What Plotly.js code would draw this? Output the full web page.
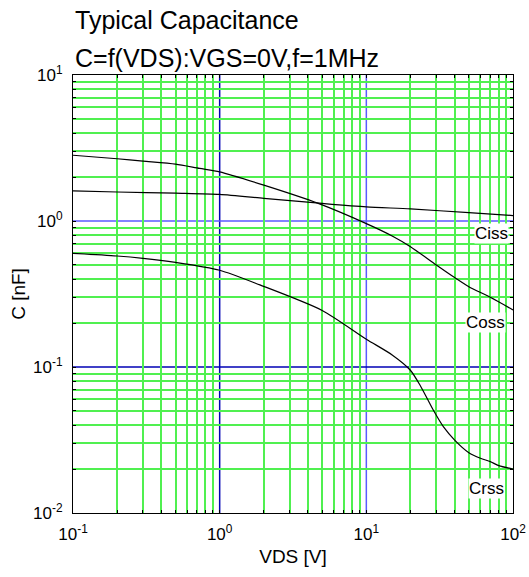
<!DOCTYPE html>
<html>
<head>
<meta charset="utf-8">
<script src="https://cdn.plot.ly/plotly-3.0.1.min.js"></script>
<style>html,body{margin:0;padding:0;background:#fff;}#chart{width:529px;height:577px;}</style>
</head>
<body>
<div id="chart"></div>
<script>
// VDS [V] sample points and capacitances [nF]
const vdsCiss = [0.1, 0.2, 0.5, 1, 2, 5, 10, 20, 50, 100];
const ciss    = [1.61, 1.58, 1.55, 1.52, 1.43, 1.32, 1.25, 1.21, 1.14, 1.09];

const vdsCoss = [0.1, 0.2, 0.3, 0.5, 0.73, 1, 2, 4.7, 10, 15, 20, 30, 40, 50, 70, 100];
const coss    = [2.82, 2.67, 2.57, 2.45, 2.29, 2.17, 1.76, 1.32, 0.96, 0.79, 0.667, 0.50, 0.41, 0.355, 0.30, 0.246];

const vdsCrss = [0.1, 0.2, 0.3, 0.5, 1, 1.88, 5, 10, 15, 19.9, 23.2, 28.6, 33.5, 40, 50, 60, 70, 80, 100];
const crss    = [0.60, 0.576, 0.555, 0.52, 0.46, 0.365, 0.244, 0.155, 0.121, 0.0954, 0.0753, 0.0507, 0.039, 0.0316, 0.0259, 0.0237, 0.0225, 0.0211, 0.020];

const seriesNames = ['Ciss', 'Coss', 'Crss'];
const titleLines = ['Typical Capacitance', 'C=f(VDS):VGS=0V,f=1MHz'];
const xTitle = 'VDS [V]';
const yTitle = 'C [nF]';

// decade ticks and their labels
const xDecades = [0.1, 1, 10, 100];
const xDecadeLabels = ['10<sup>-1</sup>', '10<sup>0</sup>', '10<sup>1</sup>', '10<sup>2</sup>'];
const yDecades = [0.01, 0.1, 1, 10];
const yDecadeLabels = ['10<sup>-2</sup>', '10<sup>-1</sup>', '10<sup>0</sup>', '10<sup>1</sup>'];
const minorDigits = [2, 3, 4, 5, 6, 7, 8, 9];

// minor grid positions: 2..9 x each decade
function minorVals(decades) {
  const out = [];
  for (let i = 0; i < decades.length - 1; i++) {
    minorDigits.forEach(d => out.push(decades[i] * d));
  }
  return out;
}

const FONT = 'Liberation Sans, Arial, sans-serif';
const GREEN = '#50f050';
const NAVY = '#0000b4';
const BLUE = '#5a5aff';

function line(x, y, name) {
  return {x: x, y: y, name: name, type: 'scatter', mode: 'lines',
          line: {color: '#000', width: 1.2, shape: 'spline', smoothing: 0.7},
          hoverinfo: 'x+y+name'};
}

const traces = [
  line(vdsCiss, ciss, seriesNames[0]),
  line(vdsCoss, coss, seriesNames[1]),
  line(vdsCrss, crss, seriesNames[2])
];

function axis(rng, decades, labels, titleText, standoff) {
  return {
    type: 'log', range: rng,
    tickmode: 'array', tickvals: decades, ticktext: labels, tickangle: 0,
    showgrid: false,
    zeroline: false,
    showline: true, linecolor: '#000', linewidth: 1, mirror: 'allticks',
    ticks: 'inside', ticklen: 3, tickcolor: '#000',
    tickfont: {family: FONT, size: 17, color: '#000'},
    minor: {tickmode: 'array', tickvals: minorVals(decades), showgrid: true,
            gridcolor: GREEN, gridwidth: 2,
            ticks: 'inside', ticklen: 3, tickcolor: '#000'},
    title: {text: titleText, font: {family: FONT, size: 19, color: '#000'}, standoff: standoff},
    fixedrange: true
  };
}

// decade reference lines: [axis, data value, colour]
const decadeLines = [['x', 1, NAVY], ['x', 10, BLUE], ['y', 0.1, NAVY], ['y', 1, BLUE]];

const layout = {
  width: 529, height: 577,
  margin: {l: 73, r: 16, t: 75, b: 64},
  paper_bgcolor: '#fff', plot_bgcolor: '#fff',
  showlegend: false,
  xaxis: Object.assign(axis([-1, 2], xDecades, xDecadeLabels, xTitle, 6), {ticklabelstandoff: 6}),
  yaxis: Object.assign(axis([-2, 1], yDecades, yDecadeLabels, yTitle, 2), {ticklabelstandoff: 6}),
  shapes: decadeLines.map(([ax, v, c]) => ax === 'x'
    ? {type: 'line', xref: 'x', yref: 'paper', x0: v, x1: v, y0: 0, y1: 1,
       line: {color: c, width: 1.5}, layer: 'below'}
    : {type: 'line', xref: 'paper', yref: 'y', x0: 0, x1: 1, y0: v, y1: v,
       line: {color: c, width: 1.5}, layer: 'below'}),
  annotations: [
    {text: titleLines[0], xref: 'paper', yref: 'paper', x: 0, y: 1.1256,
     xanchor: 'left', yanchor: 'middle', showarrow: false,
     font: {family: FONT, size: 25, color: '#000'}},
    {text: titleLines[1], xref: 'paper', yref: 'paper', x: 0, y: 1.0388,
     xanchor: 'left', yanchor: 'middle', showarrow: false,
     font: {family: FONT, size: 25, color: '#000'}},
    {text: seriesNames[0], xref: 'paper', yref: 'paper', x: 0.95, y: 0.639,
     xanchor: 'center', yanchor: 'middle', showarrow: false, bgcolor: '#fff', borderpad: 0,
     font: {family: FONT, size: 17, color: '#000'}},
    {text: seriesNames[1], xref: 'paper', yref: 'paper', x: 0.9386, y: 0.436,
     xanchor: 'center', yanchor: 'middle', showarrow: false, bgcolor: '#fff', borderpad: 0,
     font: {family: FONT, size: 17, color: '#000'}},
    {text: seriesNames[2], xref: 'paper', yref: 'paper', x: 0.94, y: 0.057,
     xanchor: 'center', yanchor: 'middle', showarrow: false, bgcolor: '#fff', borderpad: 0,
     font: {family: FONT, size: 17, color: '#000'}}
  ]
};

Plotly.newPlot('chart', traces, layout, {displayModeBar: false, staticPlot: true});
</script>
</body>
</html>
